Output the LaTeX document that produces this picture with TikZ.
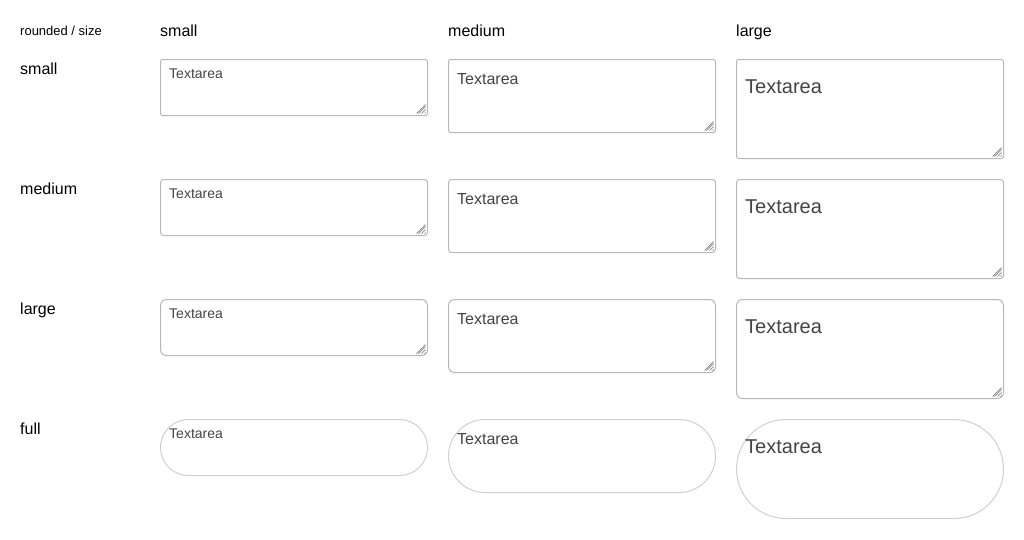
\documentclass[tikz,border=0pt]{standalone}
\usepackage{fontspec}
\setmainfont{Liberation Sans}
\definecolor{bord}{HTML}{B8B8B8}
\definecolor{pillbord}{HTML}{D0D0D0}
\definecolor{ph}{HTML}{444444}
\definecolor{hnd}{HTML}{888888}
\begin{document}
\begin{tikzpicture}[x=1pt,y=-1pt,
  tabox/.style={draw=bord,line width=1pt,rectangle,inner sep=0pt,outer sep=0pt,minimum width=267pt,anchor=north west},
  pillbox/.style={tabox,draw=pillbord},
  phtext/.style={text=ph,inner sep=0pt,anchor=base west},
  lbl/.style={text=black,inner sep=0pt,anchor=base west,font=\fontsize{16}{16}\selectfont},
  handle/.style={draw=hnd,line width=0.7pt}]
\useasboundingbox (0,0) rectangle (1024,539);
\fill[white] (0,0) rectangle (1024,539);
% headers
\node[lbl,font=\fontsize{13}{13}\selectfont] (hcorner) at (20,35) {rounded / size};
\node[lbl] (hsmall) at (160,36) {small};
\node[lbl] (hmedium) at (448,36) {medium};
\node[lbl] (hlarge) at (736,36) {large};
% row labels
\node[lbl] (rsmall) at (20,74.5) {small};
\node[lbl] (rmedium) at (20,194.5) {medium};
\node[lbl] (rlarge) at (20,314.5) {large};
\node[lbl] (rfull) at (20,434.5) {full};
% rounded rows
\foreach \r/\rad in {1/1.5,2/3,3/6}{
  \foreach \c/\cx/\h/\fs/\bo in {1/160/56/14/19,2/448/73/16/25.5,3/736/99/20/34}{
    \pgfmathsetmacro{\ty}{59+120*(\r-1)}
    \node[tabox,rounded corners=\rad pt,minimum height=\h pt] (b\r\c) at (\cx+0.5,\ty+0.5) {};
    \node[phtext,font=\fontsize{\fs}{\fs}\selectfont] (t\r\c) at (\cx+9,\ty+\bo) {Textarea};
    \draw[handle] (b\r\c.south east) ++(-2,-3) -- ++(-1,1)
                  (b\r\c.south east) ++(-2,-6) -- ++(-4,4)
                  (b\r\c.south east) ++(-2,-9) -- ++(-7,7)
                  (b\r\c.south east) ++(-2,-11) -- ++(-9,9);
  }
}
% full row
\foreach \c/\cx/\h/\fs/\bo in {1/160/56/14/19,2/448/73/16/25.5,3/736/99/20/34}{
  \pgfmathsetmacro{\rr}{\h/2}
  \node[pillbox,rounded corners=\rr pt,minimum height=\h pt] (b4\c) at (\cx+0.5,419.5) {};
  \node[phtext,font=\fontsize{\fs}{\fs}\selectfont] (t4\c) at (\cx+9,419+\bo) {Textarea};
}
\end{tikzpicture}
\end{document}
